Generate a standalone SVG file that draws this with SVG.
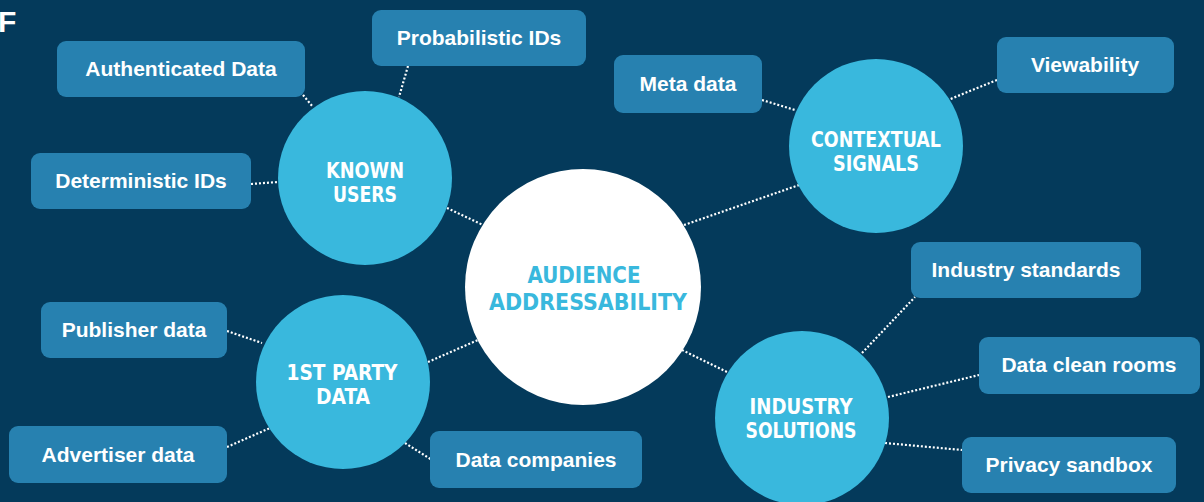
<svg xmlns="http://www.w3.org/2000/svg" width="1204" height="502" viewBox="0 0 1204 502">
  <style>
    .bg { fill: #043a5b; }
    .box { fill: #2781b0; }
    .hub { fill: #39b8dd; }
    .core { fill: #ffffff; }
    .label { font-family: "Liberation Sans", Arial, sans-serif; font-weight: bold; font-size: 21px; fill: #ffffff; text-anchor: middle; }
    .title { font-family: "DejaVu Sans Condensed", "Liberation Sans", sans-serif; font-weight: bold; font-size: 20.5px; fill: #ffffff; text-anchor: middle; }
    .core-title { fill: #39b8dd; font-size: 23px; }
    .link { stroke: #ffffff; stroke-width: 2.2; stroke-dasharray: 2 2; fill: none; }
  </style>

  <rect class="bg" x="0" y="0" width="1204" height="502"/>
  <text x="-2" y="32" font-family="Liberation Sans, Arial, sans-serif" font-weight="bold" font-size="30" fill="#ffffff">F</text>

  <!-- dotted connectors -->
  <g id="connectors">
    <line class="link" x1="303" y1="95" x2="313" y2="107"/>
    <line class="link" x1="408" y1="66" x2="399" y2="97"/>
    <line class="link" x1="251" y1="184" x2="278" y2="182"/>
    <line class="link" x1="447" y1="208" x2="483" y2="225"/>
    <line class="link" x1="762" y1="100" x2="795" y2="110"/>
    <line class="link" x1="997" y1="80" x2="948" y2="100"/>
    <line class="link" x1="684" y1="225" x2="802" y2="184"/>
    <line class="link" x1="862" y1="353" x2="915" y2="297"/>
    <line class="link" x1="888" y1="397" x2="979" y2="375"/>
    <line class="link" x1="885" y1="443" x2="962" y2="450"/>
    <line class="link" x1="682" y1="350" x2="727" y2="372"/>
    <line class="link" x1="227" y1="331" x2="262" y2="343"/>
    <line class="link" x1="227" y1="447" x2="270" y2="428"/>
    <line class="link" x1="405" y1="443" x2="432" y2="460"/>
    <line class="link" x1="428" y1="362" x2="478" y2="340"/>
  </g>

  <!-- hub circles -->
  <g id="audience-addressability">
    <circle class="core" cx="583" cy="287" r="118"/>
    <text class="title core-title" x="584" y="283" textLength="113" lengthAdjust="spacingAndGlyphs">AUDIENCE</text>
    <text class="title core-title" x="588" y="310" textLength="198" lengthAdjust="spacingAndGlyphs">ADDRESSABILITY</text>
  </g>
  <g id="known-users">
    <circle class="hub" cx="365" cy="178" r="87"/>
    <text class="title" x="365" y="178" textLength="78" lengthAdjust="spacingAndGlyphs">KNOWN</text>
    <text class="title" x="365" y="202" textLength="64" lengthAdjust="spacingAndGlyphs">USERS</text>
  </g>
  <g id="contextual-signals">
    <circle class="hub" cx="876" cy="146" r="87"/>
    <text class="title" x="876" y="147" textLength="130" lengthAdjust="spacingAndGlyphs">CONTEXTUAL</text>
    <text class="title" x="876" y="171" textLength="86" lengthAdjust="spacingAndGlyphs">SIGNALS</text>
  </g>
  <g id="first-party-data">
    <circle class="hub" cx="343" cy="382" r="87"/>
    <text class="title" x="342" y="380" textLength="111" lengthAdjust="spacingAndGlyphs">1ST PARTY</text>
    <text class="title" x="343" y="404" textLength="54" lengthAdjust="spacingAndGlyphs">DATA</text>
  </g>
  <g id="industry-solutions">
    <circle class="hub" cx="802" cy="418" r="87"/>
    <text class="title" x="801" y="414" textLength="103" lengthAdjust="spacingAndGlyphs">INDUSTRY</text>
    <text class="title" x="801" y="438" textLength="111" lengthAdjust="spacingAndGlyphs">SOLUTIONS</text>
  </g>

  <!-- leaf boxes -->
  <g id="authenticated-data">
    <rect class="box" x="57" y="41" width="248" height="56" rx="9"/>
    <text class="label" x="181" y="76">Authenticated Data</text>
  </g>
  <g id="probabilistic-ids">
    <rect class="box" x="372" y="10" width="214" height="56" rx="9"/>
    <text class="label" x="479" y="45">Probabilistic IDs</text>
  </g>
  <g id="deterministic-ids">
    <rect class="box" x="31" y="153" width="220" height="56" rx="9"/>
    <text class="label" x="141" y="188">Deterministic IDs</text>
  </g>
  <g id="meta-data">
    <rect class="box" x="614" y="55" width="148" height="58" rx="9"/>
    <text class="label" x="688" y="91">Meta data</text>
  </g>
  <g id="viewability">
    <rect class="box" x="997" y="37" width="177" height="56" rx="9"/>
    <text class="label" x="1085" y="72">Viewability</text>
  </g>
  <g id="industry-standards">
    <rect class="box" x="911" y="242" width="230" height="56" rx="9"/>
    <text class="label" x="1026" y="277">Industry standards</text>
  </g>
  <g id="data-clean-rooms">
    <rect class="box" x="979" y="337" width="221" height="57" rx="9"/>
    <text class="label" x="1089" y="372">Data clean rooms</text>
  </g>
  <g id="privacy-sandbox">
    <rect class="box" x="962" y="437" width="214" height="56" rx="9"/>
    <text class="label" x="1069" y="472">Privacy sandbox</text>
  </g>
  <g id="publisher-data">
    <rect class="box" x="41" y="302" width="186" height="56" rx="9"/>
    <text class="label" x="134" y="337">Publisher data</text>
  </g>
  <g id="advertiser-data">
    <rect class="box" x="9" y="426" width="218" height="57" rx="9"/>
    <text class="label" x="118" y="462">Advertiser data</text>
  </g>
  <g id="data-companies">
    <rect class="box" x="430" y="431" width="212" height="57" rx="9"/>
    <text class="label" x="536" y="467">Data companies</text>
  </g>
</svg>
